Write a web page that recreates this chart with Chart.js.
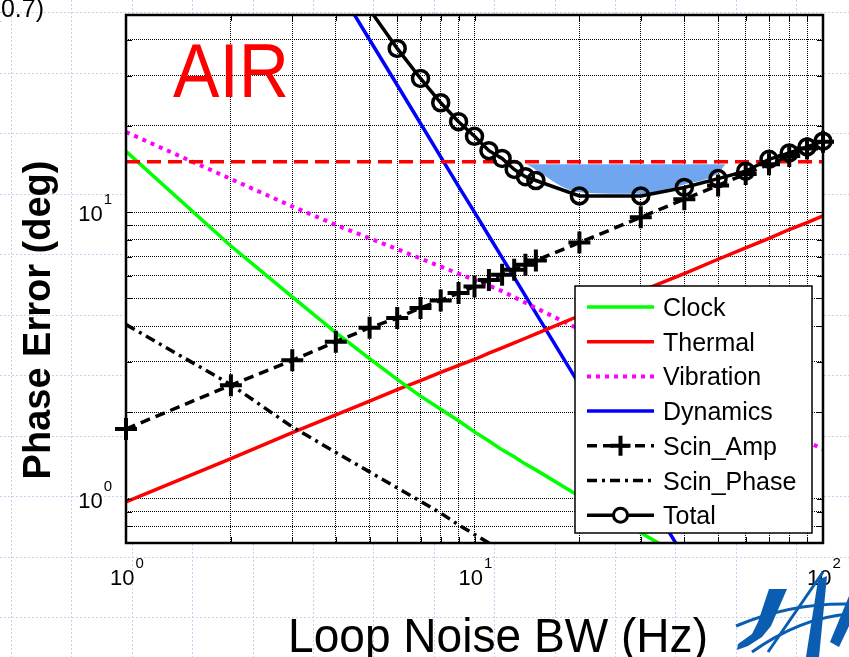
<!DOCTYPE html>
<html>
<head>
<meta charset="utf-8">
<script src="https://cdn.jsdelivr.net/npm/chart.js@4.4.0/dist/chart.umd.min.js"></script>
<style>
  html, body { margin: 0; padding: 0; background: #fff; }
  #wrap { width: 849px; height: 657px; }
</style>
</head>
<body>
<div id="wrap"><canvas id="chart" width="849" height="657"></canvas></div>
<script>
// loop noise bandwidth (Hz) and phase error (deg)
const bwHz = [1, 2, 3, 4, 5, 6, 7, 8, 9, 10, 11, 12, 13, 14, 15, 20, 30, 40, 50, 60, 70, 80, 90, 100];
const clockDeg = [16.3, 7.62, 5.06, 3.80, 3.08, 2.61, 2.28, 2.05, 1.87, 1.71, 1.59, 1.48, 1.40, 1.32, 1.26, 1.02, 0.76, 0.62, 0.55, 0.50, 0.46, 0.43, 0.41, 0.39];
const thermalDeg = [0.975, 1.38, 1.70, 1.96, 2.19, 2.40, 2.58, 2.76, 2.92, 3.06, 3.22, 3.36, 3.50, 3.63, 3.76, 4.35, 5.30, 6.10, 6.85, 7.50, 8.10, 8.70, 9.20, 9.70];
const vibrationDeg = [19.05, 13.06, 10.47, 9.03, 8.11, 7.43, 6.89, 6.46, 6.10, 5.80, 5.54, 5.30, 5.05, 4.83, 4.63, 3.90, 3.06, 2.58, 2.25, 2.02, 1.84, 1.70, 1.58, 1.49];
const dynamicsDeg = [1000, 250, 111, 62.5, 40, 27.8, 20.4, 15.6, 12.3, 10.0, 8.26, 6.94, 5.92, 5.10, 4.44, 2.50, 1.11, 0.625, 0.40, 0.28, 0.20, 0.16, 0.12, 0.10];
const scinAmpDeg = [1.75, 2.49, 3.04, 3.53, 3.95, 4.27, 4.63, 4.92, 5.22, 5.50, 5.80, 6.05, 6.30, 6.55, 6.78, 7.83, 9.60, 11.1, 12.4, 13.6, 14.7, 15.7, 16.7, 17.6];
const scinPhaseDeg = [4.05, 2.50, 1.78, 1.45, 1.24, 1.09, 0.98, 0.89, 0.81, 0.75, 0.70, 0.66, 0.62, 0.59, 0.56, 0.45, 0.34, 0.28, 0.24, 0.21, 0.19, 0.17, 0.16, 0.15];
const totalDeg = [1050, 270, 120, 70, 51, 37.3, 29.3, 24.1, 20.7, 18.4, 16.4, 15.4, 14.1, 13.3, 12.9, 11.4, 11.4, 12.2, 13.1, 13.9, 15.3, 16.1, 16.9, 17.7];

// 15 deg threshold and the shaded margin under it
const thresholdHz = [1, 100];
const thresholdDeg = [15, 15];
const marginHz = [14.1, 20, 30, 40, 50, 52.5];
const marginDeg = [14.7, 11.75, 11.6, 12.5, 13.7, 14.7];
const marginTopDeg = 14.7;

// axes
const xRange = [1, 100];
const yRange = [0.7, 48.8];
const xGridTicks = [1, 2, 3, 4, 5, 6, 7, 8, 9, 10, 20, 30, 40, 50, 60, 70, 80, 90, 100];
const yGridTicks = [0.7, 0.8, 0.9, 1, 2, 3, 4, 5, 6, 7, 8, 9, 10, 20, 30, 40];
const xTickLabels = [1, 10, 100];
const yTickLabels = [1, 10];

const xy = (xs, ys) => xs.map((x, i) => ({ x: x, y: ys[i] }));

const seriesFont = '"Liberation Sans", Arial, sans-serif';

function drawPow(ctx, value, x, y, mode) {
  // "10" with a raised exponent; mode 'center' (x axis) or 'right' (y axis)
  const exp = String(Math.round(Math.log10(value)));
  ctx.font = '22px ' + seriesFont;
  const wBase = ctx.measureText('10').width;
  ctx.font = '15px ' + seriesFont;
  const wExp = ctx.measureText(exp).width;
  const total = wBase + 1 + wExp;
  const left = mode === 'center' ? x - total / 2 + 1 : x - total;
  ctx.textAlign = 'left';
  ctx.textBaseline = 'alphabetic';
  ctx.font = '22px ' + seriesFont;
  ctx.fillText('10', left, y);
  ctx.font = '15px ' + seriesFont;
  ctx.fillText(exp, left + wBase + 1, y - 17);
}

function fitText(ctx, str, left, baseline, font, width) {
  ctx.save();
  ctx.font = font;
  const w = ctx.measureText(str).width;
  ctx.translate(left, baseline);
  ctx.scale(width / w, 1);
  ctx.textAlign = 'left';
  ctx.textBaseline = 'alphabetic';
  ctx.fillText(str, 0, 0);
  ctx.restore();
}

const slidePlugin = {
  id: 'slide',
  beforeDraw(chart) {
    const { ctx, width, height, chartArea: a } = chart;
    ctx.save();
    ctx.fillStyle = '#fff';
    ctx.fillRect(0, 0, width, height);
    // faint dotted slide grid
    ctx.strokeStyle = '#c4d3f2';
    ctx.lineWidth = 1;
    ctx.setLineDash([2, 2]);
    for (let x = 11; x < width; x += 60.4) {
      const px = Math.round(x) + 0.5;
      ctx.beginPath(); ctx.moveTo(px, 0); ctx.lineTo(px, height); ctx.stroke();
    }
    for (let y = 12; y < height; y += 60.5) {
      const py = Math.round(y) + 0.5;
      ctx.beginPath(); ctx.moveTo(0, py); ctx.lineTo(width, py); ctx.stroke();
    }
    ctx.setLineDash([]);
    ctx.fillStyle = '#fff';
    ctx.fillRect(a.left, a.top, a.right - a.left, a.bottom - a.top);
    ctx.restore();
  },
  beforeDatasetsDraw(chart) {
    const { ctx } = chart;
    ctx.save();
    ctx.fillStyle = '#ff0000';
    fitText(ctx, 'AIR', 173, 97, '76px ' + seriesFont, 116);
    ctx.restore();
  },
  afterDraw(chart) {
    const { ctx, chartArea: a, scales } = chart;
    const xs = scales.x, ys = scales.y;
    ctx.save();

    // inner tick marks
    ctx.strokeStyle = '#000';
    ctx.lineWidth = 1;
    xGridTicks.forEach(v => {
      const px = Math.round(xs.getPixelForValue(v)) + 0.5;
      ctx.beginPath();
      ctx.moveTo(px, a.bottom); ctx.lineTo(px, a.bottom - 6);
      ctx.moveTo(px, a.top); ctx.lineTo(px, a.top + 6);
      ctx.stroke();
    });
    yGridTicks.forEach(v => {
      const py = Math.round(ys.getPixelForValue(v)) + 0.5;
      ctx.beginPath();
      ctx.moveTo(a.left, py); ctx.lineTo(a.left + 6, py);
      ctx.moveTo(a.right, py); ctx.lineTo(a.right - 6, py);
      ctx.stroke();
    });

    // frame
    ctx.lineWidth = 2.5;
    ctx.strokeRect(a.left, a.top, a.right - a.left, a.bottom - a.top);

    // tick labels
    ctx.fillStyle = '#000';
    xTickLabels.forEach(v => drawPow(ctx, v, xs.getPixelForValue(v), 585, 'center'));
    yTickLabels.forEach(v => drawPow(ctx, v, 112, ys.getPixelForValue(v) + 9, 'right'));

    // axis titles
    fitText(ctx, 'Loop Noise BW (Hz)', 288, 652, '49px ' + seriesFont, 420);
    ctx.save();
    ctx.translate(50, 320);
    ctx.rotate(-Math.PI / 2);
    ctx.font = 'bold 38px ' + seriesFont;
    ctx.textAlign = 'center';
    ctx.textBaseline = 'alphabetic';
    ctx.fillText('Phase Error (deg)', 0, 0);
    ctx.restore();

    // clipped text from the slide
    ctx.font = '25px ' + seriesFont;
    ctx.textAlign = 'right';
    ctx.fillText('(0.7)', 44, 17);

    // legend
    const lx = 575, ly = 286, lw = 237, lh = 247;
    ctx.fillStyle = '#fff';
    ctx.fillRect(lx, ly, lw, lh);
    ctx.lineWidth = 1.5;
    ctx.strokeStyle = '#000';
    ctx.strokeRect(lx, ly, lw, lh);
    const items = chart.data.datasets.filter(d => d.inLegend);
    items.forEach((d, i) => {
      const cy = 307 + i * 34.7;
      ctx.save();
      ctx.strokeStyle = d.borderColor;
      ctx.lineWidth = d.borderWidth;
      ctx.setLineDash(d.borderDash || []);
      ctx.beginPath();
      ctx.moveTo(587, cy); ctx.lineTo(654, cy);
      ctx.stroke();
      ctx.setLineDash([]);
      const mx = 620.5;
      if (d.pointStyle === 'cross') {
        ctx.lineWidth = 4;
        ctx.beginPath();
        ctx.moveTo(mx - 10, cy); ctx.lineTo(mx + 10, cy);
        ctx.moveTo(mx, cy - 10); ctx.lineTo(mx, cy + 10);
        ctx.stroke();
      } else if (d.pointStyle === 'circle') {
        ctx.lineWidth = 3;
        ctx.fillStyle = '#fff';
        ctx.beginPath(); ctx.arc(mx, cy, 7, 0, Math.PI * 2); ctx.fill(); ctx.stroke();
      }
      ctx.restore();
      ctx.fillStyle = '#000';
      ctx.font = '25px ' + seriesFont;
      ctx.textAlign = 'left';
      ctx.textBaseline = 'alphabetic';
      ctx.fillText(d.label, 663, cy + 9);
    });

    // agency mark, bottom right
    ctx.fillStyle = '#0b5db1';
    ctx.strokeStyle = '#0b5db1';
    ctx.beginPath();
    ctx.moveTo(769, 589); ctx.lineTo(787, 589); ctx.lineTo(771, 626); ctx.lineTo(762, 637);
    ctx.lineTo(748, 646); ctx.lineTo(737, 650); ctx.lineTo(738, 644); ctx.lineTo(752, 634); ctx.lineTo(758, 622);
    ctx.closePath(); ctx.fill();
    ctx.lineWidth = 3;
    ctx.beginPath(); ctx.moveTo(823, 572); ctx.lineTo(768, 652); ctx.stroke();
    ctx.beginPath();
    ctx.moveTo(818, 580); ctx.lineTo(827, 576); ctx.lineTo(819, 657); ctx.lineTo(806, 657);
    ctx.closePath(); ctx.fill();
    ctx.beginPath(); ctx.moveTo(736, 626); ctx.quadraticCurveTo(790, 603, 849, 604); ctx.stroke();
    ctx.beginPath(); ctx.moveTo(752, 652); ctx.quadraticCurveTo(800, 618, 849, 614); ctx.stroke();
    ctx.beginPath();
    ctx.moveTo(830, 642); ctx.lineTo(849, 596); ctx.lineTo(849, 626); ctx.lineTo(839, 647);
    ctx.closePath(); ctx.fill();

    ctx.restore();
  }
};

const edgeClip = { left: 12, right: 12, top: 0, bottom: 0 };

const ctx = document.getElementById('chart').getContext('2d');
new Chart(ctx, {
  type: 'line',
  data: {
    datasets: [
      {
        label: 'margin',
        data: xy(marginHz, marginDeg),
        borderWidth: 0,
        borderColor: 'rgba(0,0,0,0)',
        backgroundColor: '#70a6f0',
        fill: { value: marginTopDeg },
        cubicInterpolationMode: 'monotone',
        pointRadius: 0,
        order: 9
      },
      {
        label: 'Clock', inLegend: true,
        data: xy(bwHz, clockDeg),
        borderColor: '#00ff00', borderWidth: 3.5,
        pointRadius: 0, order: 6
      },
      {
        label: 'Thermal', inLegend: true,
        data: xy(bwHz, thermalDeg),
        borderColor: '#ff0000', borderWidth: 3.5,
        pointRadius: 0, order: 6
      },
      {
        label: 'Vibration', inLegend: true,
        data: xy(bwHz, vibrationDeg),
        borderColor: '#ff00ff', borderWidth: 4, borderDash: [4, 5],
        pointRadius: 0, order: 6
      },
      {
        label: 'Dynamics', inLegend: true,
        data: xy(bwHz, dynamicsDeg),
        borderColor: '#0000ff', borderWidth: 3.5,
        pointRadius: 0, order: 6
      },
      {
        label: 'Scin_Amp', inLegend: true,
        data: xy(bwHz, scinAmpDeg),
        borderColor: '#000', borderWidth: 3.5, borderDash: [10, 6],
        pointStyle: 'cross', pointRadius: 11, pointBorderWidth: 4,
        pointBorderColor: '#000', pointBackgroundColor: '#000',
        clip: edgeClip, order: 3
      },
      {
        label: 'Scin_Phase', inLegend: true,
        data: xy(bwHz, scinPhaseDeg),
        borderColor: '#000', borderWidth: 3.5, borderDash: [10, 5, 3, 5],
        pointRadius: 0, order: 5
      },
      {
        label: 'Total', inLegend: true,
        data: xy(bwHz, totalDeg),
        borderColor: '#000', borderWidth: 3.5,
        pointStyle: 'circle',
        pointRadius: c => (c.raw && c.raw.y > yRange[1]) ? 0 : 8,
        pointBorderWidth: 3.5, pointBorderColor: '#000',
        pointBackgroundColor: 'rgba(0,0,0,0)',
        clip: edgeClip, order: 2
      },
      {
        label: 'threshold',
        data: xy(thresholdHz, thresholdDeg),
        borderColor: '#ff0000', borderWidth: 3.5, borderDash: [14, 7],
        pointRadius: 0, order: 4
      }
    ]
  },
  options: {
    responsive: false,
    animation: false,
    layout: { padding: { left: 126, top: 9, right: 26, bottom: 114 } },
    plugins: {
      legend: { display: false },
      tooltip: { enabled: false }
    },
    scales: {
      x: {
        type: 'logarithmic',
        min: xRange[0], max: xRange[1],
        afterBuildTicks: s => { s.ticks = xGridTicks.map(v => ({ value: v })); },
        ticks: { display: false },
        grid: { color: '#000', lineWidth: 1, drawTicks: false },
        border: { display: false, dash: [1, 1] }
      },
      y: {
        type: 'logarithmic',
        min: yRange[0], max: yRange[1],
        afterBuildTicks: s => { s.ticks = yGridTicks.map(v => ({ value: v })); },
        ticks: { display: false },
        grid: { color: '#000', lineWidth: 1, drawTicks: false },
        border: { display: false, dash: [1, 1] }
      }
    }
  },
  plugins: [slidePlugin]
});
</script>
</body>
</html>
